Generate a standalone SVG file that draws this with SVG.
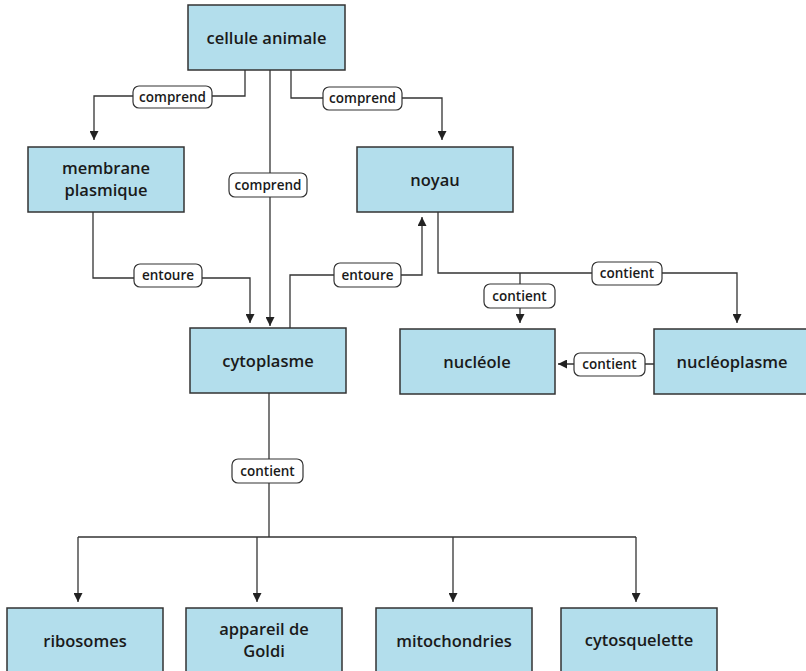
<svg xmlns="http://www.w3.org/2000/svg" width="806" height="671" viewBox="0 0 806 671">
<style>
.node rect{fill:#b3deec;stroke:#333;stroke-width:1.5}
.node text{font-family:"Open Sans","Liberation Sans",sans-serif;font-size:16.5px;font-weight:600;fill:#1a1a1a;text-anchor:middle}
.conn path{fill:none;stroke:#333;stroke-width:1.3}
.lbl rect{fill:#fff;stroke:#333;stroke-width:1.2}
.lbl text{font-family:"Open Sans","Liberation Sans",sans-serif;font-size:13.5px;font-weight:600;fill:#1a1a1a;text-anchor:middle}
</style>
<defs>
<marker id="arr" viewBox="0 0 10 10" refX="10" refY="5" markerWidth="9" markerHeight="9" markerUnits="userSpaceOnUse" orient="auto">
<path d="M0,0 L10,5 L0,10 z" fill="#222"/>
</marker>
</defs>
<g id="connectors" class="conn">
<path d="M245 70 V96 H94 V140" marker-end="url(#arr)"/>
<path d="M270 70 V326" marker-end="url(#arr)"/>
<path d="M291 70 V98 H442 V140" marker-end="url(#arr)"/>
<path d="M93 212 V278 H250 V323" marker-end="url(#arr)"/>
<path d="M290 328 V275 H422 V217" marker-end="url(#arr)"/>
<path d="M438 212 V273 H737 V323" marker-end="url(#arr)"/>
<path d="M520 273 V323" marker-end="url(#arr)"/>
<path d="M654 364 H558" marker-end="url(#arr)"/>
<path d="M269 393 V537"/>
<path d="M78 537 H636"/>
<path d="M78 537 V602" marker-end="url(#arr)"/>
<path d="M257 537 V602" marker-end="url(#arr)"/>
<path d="M453 537 V602" marker-end="url(#arr)"/>
<path d="M636 537 V602" marker-end="url(#arr)"/>
</g>
<g id="labels" class="lbl">
<g id="l1"><rect x="133" y="86" width="79" height="22" rx="6"/><text x="172.5" y="101.5">comprend</text></g>
<g id="l2"><rect x="229" y="173" width="78" height="24" rx="6"/><text x="268" y="189.5">comprend</text></g>
<g id="l3"><rect x="323" y="87" width="79" height="23" rx="6"/><text x="362.5" y="103">comprend</text></g>
<g id="l4"><rect x="134" y="264" width="68" height="23" rx="6"/><text x="168" y="280">entoure</text></g>
<g id="l5"><rect x="334" y="263" width="67" height="24" rx="6"/><text x="367.5" y="279.5">entoure</text></g>
<g id="l6"><rect x="592" y="262" width="70" height="23" rx="6"/><text x="627" y="278">contient</text></g>
<g id="l7"><rect x="484" y="284" width="71" height="24" rx="6"/><text x="519.5" y="300.5">contient</text></g>
<g id="l8"><rect x="574" y="353" width="71" height="23" rx="6"/><text x="609.5" y="369">contient</text></g>
<g id="l9"><rect x="232" y="459" width="71" height="24" rx="6"/><text x="267.5" y="475.5">contient</text></g>
</g>
<g id="cellule" class="node"><rect x="188" y="5" width="157" height="65"/><text x="266.5" y="43.5">cellule animale</text></g>
<g id="membrane" class="node"><rect x="28" y="147" width="156" height="65"/><text x="106" y="173.5">membrane</text><text x="106" y="195.5">plasmique</text></g>
<g id="noyau" class="node"><rect x="357" y="147" width="156" height="65"/><text x="435" y="185.5">noyau</text></g>
<g id="cytoplasme" class="node"><rect x="190" y="328" width="156" height="65"/><text x="268" y="366.5">cytoplasme</text></g>
<g id="nucleole" class="node"><rect x="400" y="329" width="155" height="65"/><text x="477" y="367.5">nucléole</text></g>
<g id="nucleoplasme" class="node"><rect x="654" y="329" width="156" height="65"/><text x="732" y="367.5">nucléoplasme</text></g>
<g id="ribosomes" class="node"><rect x="7" y="608" width="156" height="65"/><text x="85" y="646.5">ribosomes</text></g>
<g id="appareil" class="node"><rect x="186" y="608" width="156" height="65"/><text x="264" y="635">appareil de</text><text x="264" y="657">Goldi</text></g>
<g id="mitochondries" class="node"><rect x="376" y="608" width="156" height="65"/><text x="454" y="646.5">mitochondries</text></g>
<g id="cytosquelette" class="node"><rect x="561" y="608" width="156" height="65"/><text x="639" y="645.5">cytosquelette</text></g>
</svg>
